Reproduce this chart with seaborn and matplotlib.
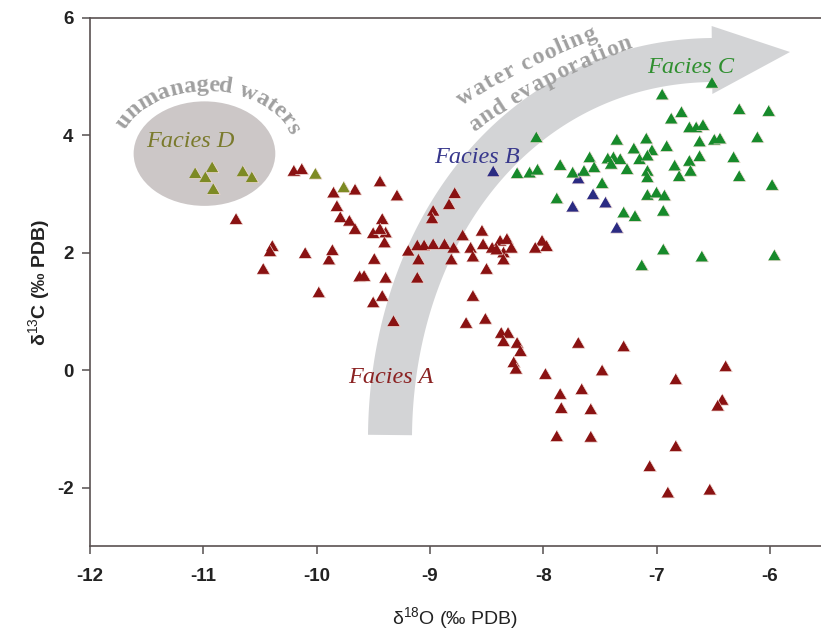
import numpy as np
import pandas as pd
import matplotlib
matplotlib.use("Agg")
import matplotlib.pyplot as plt
import seaborn as sns
from matplotlib.patches import Ellipse, Polygon
from matplotlib.transforms import IdentityTransform
from matplotlib.textpath import TextToPath
from matplotlib.font_manager import FontProperties

# ---------------- data ----------------
facies_a_x = [-10.20, -10.13, -10.71, -10.39, -10.41, -10.10, -10.47, -9.98, -9.89, -9.86,
              -9.85, -9.66, -9.44, -9.29, -8.78, -8.83, -8.97, -8.98, -9.82, -9.79,
              -9.71, -9.66, -9.42, -9.50, -9.39, -9.44, -9.40, -9.49, -9.62, -9.58,
              -9.39, -9.42, -9.50, -9.32, -9.19, -9.11, -9.05, -8.97, -9.10, -9.11,
              -8.87, -8.79, -8.81, -8.71, -8.64, -8.62, -8.54, -8.53, -8.45, -8.38,
              -8.32, -8.35, -8.28, -8.41, -8.50, -8.35, -8.01, -8.07, -7.97, -8.62,
              -8.68, -8.51, -8.37, -8.31, -8.35, -8.23, -8.20, -7.69, -8.26, -8.24,
              -7.98, -7.85, -7.84, -7.88, -7.66, -7.58, -7.58, -7.48, -7.29, -7.06,
              -6.90, -6.83, -6.83, -6.53, -6.39, -6.42, -6.46]
facies_a_y = [3.37, 3.40, 2.55, 2.09, 2.00, 1.97, 1.70, 1.30, 1.86, 2.02,
              3.00, 3.05, 3.19, 2.95, 2.99, 2.80, 2.69, 2.56, 2.77, 2.58,
              2.52, 2.38, 2.55, 2.31, 2.32, 2.38, 2.15, 1.87, 1.57, 1.58,
              1.55, 1.24, 1.13, 0.81, 2.01, 2.10, 2.10, 2.12, 1.86, 1.55,
              2.12, 2.06, 1.86, 2.27, 2.06, 1.91, 2.35, 2.12, 2.06, 2.18,
              2.21, 1.98, 2.06, 2.03, 1.70, 1.86, 2.18, 2.06, 2.09, 1.24,
              0.78, 0.85, 0.61, 0.61, 0.47, 0.44, 0.30, 0.44, 0.11, 0.00,
              -0.09, -0.43, -0.67, -1.15, -0.35, -0.69, -1.16, -0.03, 0.38, -1.66,
              -2.11, -0.18, -1.32, -2.06, 0.04, -0.53, -0.63]

facies_b_x = [-8.44, -7.69, -7.56, -7.74, -7.45, -7.35]
facies_b_y = [3.36, 3.24, 2.97, 2.76, 2.83, 2.40]

facies_c_x = [-8.23, -8.12, -8.05, -7.85, -7.74, -7.88, -6.51, -6.95, -6.78, -6.87,
              -6.27, -6.01, -6.71, -6.65, -6.59, -6.11, -6.49, -6.44, -6.62, -6.91,
              -7.09, -7.35, -7.04, -7.20, -8.06, -7.59, -7.43, -7.38, -7.32, -7.40,
              -7.26, -7.15, -7.08, -7.55, -7.64, -7.08, -7.08, -6.84, -6.71, -6.62,
              -6.70, -6.80, -6.32, -6.27, -5.98, -7.48, -7.08, -7.00, -6.93, -6.94,
              -7.29, -7.19, -6.94, -7.13, -6.60, -5.96]
facies_c_y = [3.33, 3.34, 3.39, 3.47, 3.34, 2.90, 4.87, 4.67, 4.37, 4.26,
              4.42, 4.39, 4.11, 4.11, 4.15, 3.94, 3.90, 3.92, 3.87, 3.79,
              3.92, 3.90, 3.72, 3.75, 3.94, 3.60, 3.58, 3.60, 3.57, 3.49,
              3.40, 3.57, 3.63, 3.43, 3.37, 3.37, 3.26, 3.46, 3.54, 3.62,
              3.37, 3.28, 3.60, 3.28, 3.13, 3.16, 2.96, 3.00, 2.95, 2.69,
              2.66, 2.60, 2.03, 1.76, 1.91, 1.93]

facies_d_x = [-11.07, -10.92, -10.98, -10.91, -10.65, -10.57, -10.01, -9.76]
facies_d_y = [3.33, 3.43, 3.26, 3.06, 3.36, 3.26, 3.32, 3.09]

facies_names = ["Facies A", "Facies B", "Facies C", "Facies D"]
facies_colors = ["#8a1212", "#2b2b82", "#178a2b", "#7d8a24"]
text_colors = ["#8b2222", "#37378c", "#2f8f2f", "#7a7a2c"]

x_ticks = [-12, -11, -10, -9, -8, -7, -6]
y_ticks = [-2, 0, 2, 4, 6]

df = pd.concat([
    pd.DataFrame({"d18O": facies_a_x, "d13C": facies_a_y, "facies": "Facies A"}),
    pd.DataFrame({"d18O": facies_b_x, "d13C": facies_b_y, "facies": "Facies B"}),
    pd.DataFrame({"d18O": facies_c_x, "d13C": facies_c_y, "facies": "Facies C"}),
    pd.DataFrame({"d18O": facies_d_x, "d13C": facies_d_y, "facies": "Facies D"}),
], ignore_index=True)

# ---------------- style ----------------
sns.set_theme(style="ticks")
plt.rcParams["font.family"] = ["Liberation Sans", "DejaVu Sans"]
plt.rcParams["mathtext.fontset"] = "custom"
plt.rcParams["mathtext.rm"] = "Liberation Sans"
plt.rcParams["mathtext.it"] = "Liberation Sans:italic"
plt.rcParams["mathtext.bf"] = "Liberation Sans:bold"

W, H = 821, 631
fig = plt.figure(figsize=(W / 100, H / 100), dpi=100)
ax_bottom_px, ax_top_px, ax_left_px = 546.4, 18.0, 90.0
ax = fig.add_axes([ax_left_px / W, (H - ax_bottom_px) / H,
                   (W - ax_left_px) / W, (ax_bottom_px - ax_top_px) / H])
ax.set_xlim(-12, -5.55)
ax.set_ylim(-3, 6)


def img(xp, yp):
    """image-pixel coords (y down) -> display coords"""
    return np.column_stack([np.asarray(xp, float), H - np.asarray(yp, float)])


# ---------------- background shapes ----------------
# evolution arrow (curved gray band)
ctrl = np.array([[390, 435], [392, 230], [520, 62], [712, 60]], float)
tip = np.array([790, 52], float)
t = np.linspace(0, 1, 300)[:, None]
C = ((1 - t) ** 3 * ctrl[0] + 3 * (1 - t) ** 2 * t * ctrl[1]
     + 3 * (1 - t) * t ** 2 * ctrl[2] + t ** 3 * ctrl[3])
D = (3 * (1 - t) ** 2 * (ctrl[1] - ctrl[0]) + 6 * (1 - t) * t * (ctrl[2] - ctrl[1])
     + 3 * t ** 2 * (ctrl[3] - ctrl[2]))
T = D / np.linalg.norm(D, axis=1)[:, None]
N = np.column_stack([-T[:, 1], T[:, 0]])
hw, hh = 22.0, 34.0
side1 = C + N * hw
side2 = C - N * hw
head = np.array([ctrl[3] + N[-1] * hh, tip, ctrl[3] - N[-1] * hh])
band = np.vstack([side1, head, side2[::-1]])
ax.add_patch(Polygon(img(band[:, 0], band[:, 1]), closed=True, facecolor="#d3d4d6",
                     edgecolor="none", transform=IdentityTransform(), zorder=1))

# unmanaged waters ellipse (data coords)
ax.add_patch(Ellipse((-10.99, 3.69), 1.25, 1.78, facecolor="#ccc7c7",
                     edgecolor="none", zorder=1))

# ---------------- points ----------------
tri = [(-1.0, -0.577), (1.0, -0.577), (0.0, 1.155)]
sns.scatterplot(data=df, x="d18O", y="d13C", hue="facies", hue_order=facies_names,
                palette=dict(zip(facies_names, facies_colors)), marker=tri, s=118,
                edgecolor="#f3dcd6", linewidth=0.5, legend=False, ax=ax, zorder=3)

# ---------------- facies labels ----------------
label_pos = {"Facies A": (-9.344, -0.218), "Facies B": (-8.581, 3.538),
             "Facies C": (-6.697, 5.063), "Facies D": (-11.113, 3.80)}
for name, col in zip(facies_names, text_colors):
    ax.text(*label_pos[name], name, family="Liberation Serif", style="italic",
            fontsize=17.5, color=col, ha="center", va="baseline", zorder=4)

# ---------------- curved gray texts ----------------
ttp = TextToPath()


def text_on_curve(s, pts, size, color, weight="normal"):
    """place characters of s so first/last char centres sit at the ends of pts (image px)"""
    fp = FontProperties(family="Liberation Serif", size=size, weight=weight)
    w = np.array([ttp.get_text_width_height_descent(ch, fp, ismath=False)[0] for ch in s]) * 100 / 72
    cen = np.cumsum(w) - w / 2
    frac = (cen - cen[0]) / (cen[-1] - cen[0])
    seg = np.linalg.norm(np.diff(pts, axis=0), axis=1)
    L = np.concatenate([[0], np.cumsum(seg)])
    for ch, f in zip(s, frac):
        if ch == " ":
            continue
        l = f * L[-1]
        px = np.interp(l, L, pts[:, 0])
        py = np.interp(l, L, pts[:, 1])
        i = min(np.searchsorted(L, l), len(L) - 1)
        i = max(i, 1)
        dx, dy = pts[i] - pts[i - 1]
        ang = np.degrees(np.arctan2(-dy, dx))
        ax.text(px, H - py, ch, transform=IdentityTransform(), family="Liberation Serif",
                fontsize=size, fontweight=weight, color=color, rotation=ang,
                rotation_mode="anchor", ha="center", va="baseline", zorder=4)


th = np.radians(np.linspace(152, 21.5, 400))
arc = np.column_stack([206 + 88 * np.cos(th), 154 - 63 * np.sin(th)])
text_on_curve("unmanaged waters", arc, 17.5, "#a0a0a0", "semibold")


def quad_through(a, m, c, n=300):
    a, m, c = map(lambda p: np.array(p, float), (a, m, c))
    q = 2 * m - (a + c) / 2
    u = np.linspace(0, 1, n)[:, None]
    return (1 - u) ** 2 * a + 2 * (1 - u) * u * q + u ** 2 * c


text_on_curve("water cooling", quad_through((468.7, 101.8), (522, 71.5), (592, 40.2)),
              17, "#a0a0a0", "semibold")
text_on_curve("and evaporation", quad_through((478.7, 128.5), (552, 83.5), (627, 50.2)),
              17, "#a0a0a0", "semibold")

# ---------------- axes styling ----------------
ax.set_xticks(x_ticks)
ax.set_yticks(y_ticks)
ax.set_xticklabels([str(v) for v in x_ticks])
ax.set_yticklabels([str(v) for v in y_ticks])
for lab in ax.get_xticklabels() + ax.get_yticklabels():
    lab.set_fontweight("bold")
ax.tick_params(axis="both", direction="out", length=5.8, width=1.1, color="#555050",
               labelsize=13.5, labelcolor="#222222")
ax.tick_params(axis="x", pad=9.5)
ax.tick_params(axis="y", pad=6)
for sp in ["left", "bottom", "top"]:
    ax.spines[sp].set_color("#5a5252")
    ax.spines[sp].set_linewidth(1.2)
ax.spines["right"].set_visible(False)

ax.set_xlabel(r"δ$^{\mathrm{18}}$O (‰ PDB)", fontsize=14, color="#222222")
ax.set_ylabel(r"δ$^{\mathrm{13}}$C (‰ PDB)", fontsize=14, color="#222222", fontweight="bold")
ax.xaxis.set_label_coords(0.5, -0.112)
ax.yaxis.set_label_coords(-0.052, 0.5)

fig.savefig("out.png", dpi=100)
